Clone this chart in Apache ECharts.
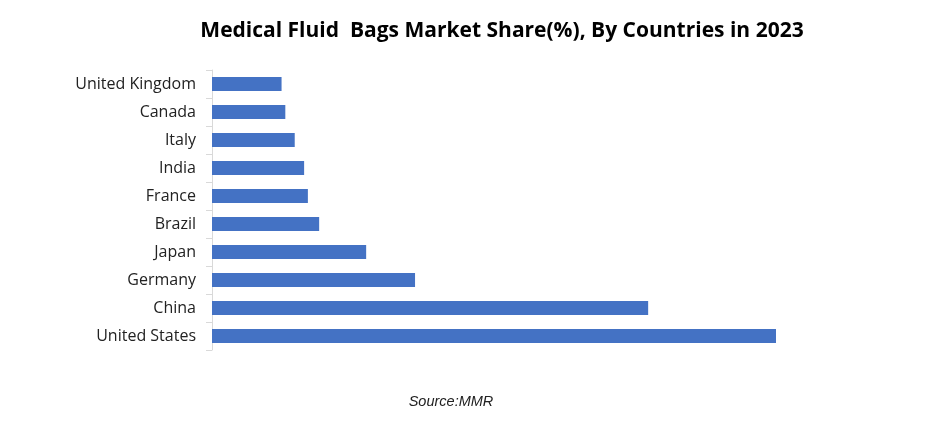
<!DOCTYPE html>
<html><head><meta charset="utf-8">
<script src="https://cdn.jsdelivr.net/npm/echarts@6/dist/echarts.min.js"></script>
<style>html,body{margin:0;padding:0;background:#fff}#c{width:931px;height:425px}</style>
</head><body><div id="c"></div>
<script>
const categories = ["United Kingdom","Canada","Italy","India","France","Brazil","Japan","Germany","China","United States"];
const shareValues = [3.7, 3.9, 4.4, 4.9, 5.1, 5.7, 8.2, 10.8, 23.2, 30.0];
const titleText = "Medical Fluid  Bags Market Share(%), By Countries in 2023";
const sourceText = "Source:MMR";

const chart = echarts.init(document.getElementById('c'));
chart.setOption({
  animation: false,
  title: [{
    text: titleText, left: 497, top: 16, textAlign: 'center',
    textStyle: {fontFamily: 'Open Sans', fontWeight: 'bold', fontSize: 21, color: '#000'}
  }, {
    text: sourceText, left: 446, top: 389, textAlign: 'center',
    textStyle: {fontFamily: 'Liberation Sans', fontStyle: 'italic', fontWeight: 'normal', fontSize: 14.5, color: '#222'}
  }],
  grid: {left: 212, top: 70, height: 280, width: 658},
  xAxis: {type: 'value', min: 0, max: 35, show: false},
  yAxis: {
    type: 'category', data: categories, inverse: true,
    axisLine: {show: true, lineStyle: {color: '#d9d9d9', width: 1}},
    axisTick: {show: true, length: 6, lineStyle: {color: '#d9d9d9'}},
    axisLabel: {margin: 16, fontFamily: 'Open Sans', fontSize: 16, color: '#222', padding: [2, 0, 0, 0]}
  },
  series: [{
    type: 'bar', data: shareValues, barWidth: 14,
    itemStyle: {color: '#4472c4'}
  }]
});
</script></body></html>
